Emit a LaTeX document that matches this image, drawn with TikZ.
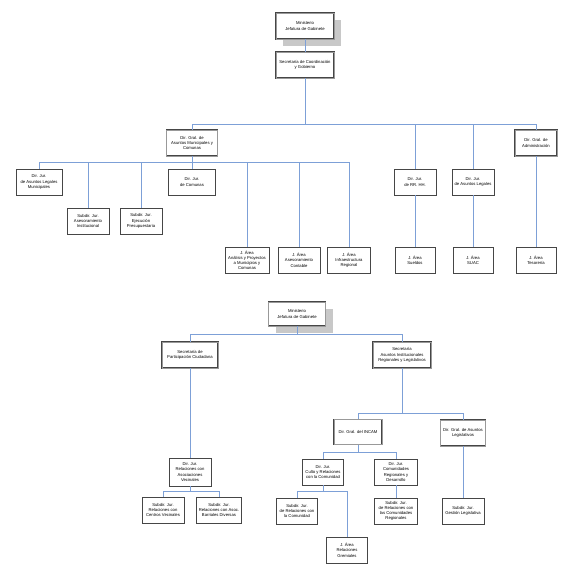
\documentclass[tikz,border=0pt]{standalone}
\usepackage{fontspec}
\setmainfont{Liberation Sans}
\usepackage{tikz}
\usetikzlibrary{shadows}
\definecolor{OrgLine}{RGB}{125,160,215}
\definecolor{OrgFrame}{RGB}{70,70,70}
\definecolor{OrgShade}{RGB}{200,200,200}

\tikzset{
  unidad/.style={draw=OrgFrame, line width=0.6pt, fill=white,
                 align=center, inner sep=1pt, minimum height=26pt,
                 font=\fontsize{4.2}{5.2}\selectfont},
  direccion/.style={unidad, draw=OrgFrame, line width=0.45pt,
                 double=black!40, double distance=0.9pt},
  ministerio/.style={direccion,
                 drop shadow={shadow xshift=7pt, shadow yshift=-7pt,
                              fill=OrgShade, opacity=1}},
  enlace/.style={OrgLine, line width=0.8pt}
}

\begin{document}
\begin{tikzpicture}[x=1pt, y=-1pt]
  \useasboundingbox (0,0) rectangle (575,570);

  % primer organigrama
  \node[ministerio, minimum width=58pt] (mjgA) at (305,26) {Ministerio\\Jefatura de Gabinete};
  \node[direccion, minimum width=58pt] (scg) at (305,65) {Secretaría de Coordinación\\y Gobierno};
  \node[direccion, minimum width=51pt] (dgam) at (192,143) {Dir. Gral. de\\Asuntos Municipales y\\Comunas};
  \node[direccion, minimum width=42pt] (dgadm) at (536,143) {Dir. Gral. de\\Administración};
  \node[unidad, minimum width=42pt] (djrh) at (415,182) {Dir. Jur.\\de RR. HH.};
  \node[unidad, minimum width=42pt] (djal) at (473,182) {Dir. Jur.\\de Asuntos Legales};
  \node[unidad, minimum width=46pt] (djalm) at (39,182) {Dir. Jur.\\de Asuntos Legales\\Municipales};
  \node[unidad, minimum width=42pt] (sdai) at (88,221) {Subdir. Jur.\\Asesoramiento\\Institucional};
  \node[unidad, minimum width=42pt] (sdep) at (141,221) {Subdir. Jur.\\Ejecución\\Presupuestaria};
  \node[unidad, minimum width=47pt] (djcom) at (192,182) {Dir. Jur.\\de Comunas};
  \node[unidad, minimum width=44pt] (jaap) at (247,260) {J. Área\\Análisis y Proyectos\\a Municipios y\\Comunas};
  \node[unidad, minimum width=42pt] (jaac) at (299,260) {J. Área\\Asesoramiento\\Contable};
  \node[unidad, minimum width=43pt] (jair) at (349,260) {J. Área\\Infraestructura\\Regional};
  \node[unidad, minimum width=40pt] (jasu) at (415,260) {J. Área\\Sueldos};
  \node[unidad, minimum width=40pt] (jasuac) at (473,260) {J. Área\\SUAC};
  \node[unidad, minimum width=40pt] (jates) at (536,260) {J. Área\\Tesorería};

  \coordinate (barA) at (0,124);
  \coordinate (barB) at (0,162);
  \draw[enlace] (mjgA) -- (scg);
  \foreach \n in {dgam,djrh,djal,dgadm}
    \draw[enlace] (scg) -- (scg |- barA) -| (\n);
  \foreach \n in {djalm,sdai,sdep,jaap,jaac,jair}
    \draw[enlace] (dgam) -- (dgam |- barB) -| (\n);
  \draw[enlace] (dgam) -- (djcom);
  \draw[enlace] (djrh) -- (jasu);
  \draw[enlace] (djal) -- (jasuac);
  \draw[enlace] (dgadm) -- (jates);

  % segundo organigrama
  \node[ministerio, minimum width=57pt, minimum height=24pt] (mjgB) at (297,314) {Ministerio\\Jefatura de Gabinete};
  \node[direccion, minimum width=56pt] (spc) at (190,355) {Secretaría de\\Participación Ciudadana};
  \node[direccion, minimum width=58pt] (sairl) at (402,355) {Secretaría\\Asuntos Institucionales\\Regionales y Legislativos};
  \node[unidad, minimum width=42pt, minimum height=28pt] (djrav) at (190,472) {Dir. Jur.\\Relaciones con\\Asociaciones\\Vecinales};
  \node[unidad, minimum width=42pt] (sdrcv) at (163,510) {Subdir. Jur.\\Relaciones con\\Centros Vecinales};
  \node[unidad, minimum width=45pt] (sdrab) at (219,510) {Subdir. Jur.\\Relaciones con Asoc.\\Barriales Diversas};
  \node[direccion, minimum width=48pt, minimum height=25pt] (dginc) at (358,432) {Dir. Gral. del INCAM};
  \node[direccion, minimum width=45pt] (dgal) at (463,433) {Dir. Gral. de Asuntos\\Legislativos};
  \node[unidad, minimum width=41pt] (djcul) at (323,472) {Dir. Jur.\\Culto y Relaciones\\con la Comunidad};
  \node[unidad, minimum width=43pt] (djcrd) at (396,472) {Dir. Jur.\\Comunidades\\Regionales y\\Desarrollo};
  \node[unidad, minimum width=41pt] (sdrco) at (297,511) {Subdir. Jur.\\de Relaciones con\\la Comunidad};
  \node[unidad, minimum width=41pt] (jarg) at (347,550) {J. Área\\Relaciones\\Gremiales};
  \node[unidad, minimum width=43pt] (sdrcr) at (396,511) {Subdir. Jur.\\de Relaciones con\\las Comunidades\\Regionales};
  \node[unidad, minimum width=42pt] (sdgl) at (463,511) {Subdir. Jur.\\Gestión Legislativa};

  \coordinate (barC) at (0,334);
  \coordinate (barD) at (0,491);
  \coordinate (barE) at (0,413);
  \coordinate (barF) at (0,452);
  \foreach \n in {spc,sairl}
    \draw[enlace] (mjgB) -- (mjgB |- barC) -| (\n);
  \draw[enlace] (spc) -- (djrav);
  \foreach \n in {sdrcv,sdrab}
    \draw[enlace] (djrav) -- (djrav |- barD) -| (\n);
  \foreach \n in {dginc,dgal}
    \draw[enlace] (sairl) -- (sairl |- barE) -| (\n);
  \foreach \n in {djcul,djcrd}
    \draw[enlace] (dginc) -- (dginc |- barF) -| (\n);
  \foreach \n in {sdrco,jarg}
    \draw[enlace] (djcul) -- (djcul |- barD) -| (\n);
  \draw[enlace] (djcrd) -- (sdrcr);
  \draw[enlace] (dgal) -- (sdgl);
\end{tikzpicture}
\end{document}
